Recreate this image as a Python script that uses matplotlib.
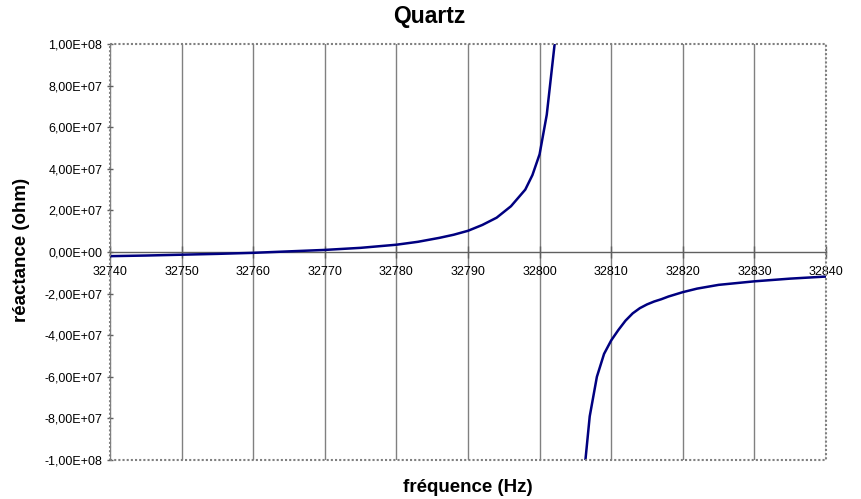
import matplotlib
matplotlib.use("Agg")
import matplotlib.pyplot as plt
from matplotlib.patches import Rectangle
from matplotlib.ticker import FuncFormatter, MultipleLocator
import numpy as np

plt.rcParams['font.family'] = ['Liberation Sans', 'DejaVu Sans']

# Branch below the resonance
freq_low = [32740, 32745, 32750, 32755, 32760, 32765, 32770, 32775, 32780,
            32783, 32786, 32788, 32790, 32792, 32794, 32796, 32798, 32799, 32800, 32801, 32802.1]
react_low = [-2.0e6, -1.7e6, -1.3e6, -0.9e6, -0.4e6, 0.3e6, 1.0e6, 2.0e6, 3.5e6,
             4.9e6, 6.8e6, 8.3e6, 10.2e6, 13e6, 16.5e6, 22e6, 30e6, 37e6, 47e6, 66e6, 100e6]
# Branch above the resonance
freq_high = [32806.4, 32807, 32808, 32809, 32810, 32811, 32812, 32813, 32814, 32815,
             32816, 32817, 32818, 32820, 32822, 32825, 32830, 32835, 32840]
react_high = [-100e6, -79e6, -60e6, -49e6, -42.5e6, -37.5e6, -33e6, -29.5e6, -27e6, -25.2e6,
              -23.8e6, -22.7e6, -21.4e6, -19.3e6, -17.6e6, -15.8e6, -14.1e6, -12.8e6, -11.8e6]

title = "Quartz"
xlabel = "fréquence (Hz)"
ylabel = "réactance (ohm)"

fig = plt.figure(figsize=(8.61, 4.99), dpi=100)
ax = fig.add_axes([110/861, 1-460/499, (826-110)/861, (460-44)/499])

line_color = '#000080'
ax.plot(freq_low, react_low, color=line_color, lw=1.8, solid_joinstyle='round', zorder=3)
ax.plot(freq_high, react_high, color=line_color, lw=1.8, solid_joinstyle='round', zorder=3)

ax.set_xlim(32740, 32840)
ax.set_ylim(-1e8, 1e8)
ax.xaxis.set_major_locator(MultipleLocator(10))
ax.yaxis.set_major_locator(MultipleLocator(2e7))
ax.xaxis.set_major_formatter(FuncFormatter(lambda v, p: f"{int(round(v))}"))
ax.yaxis.set_major_formatter(FuncFormatter(lambda v, p: f"{v:.2E}".replace('.', ',')))

ax.grid(True, axis='x', color='#808080', lw=1.0, zorder=1)
ax.grid(False, axis='y')

# x axis crosses at 0
ax.spines['bottom'].set_position(('data', 0))
ax.spines['bottom'].set_color('#606060')
ax.spines['bottom'].set_linewidth(1.0)
for s in ['top', 'right', 'left']:
    ax.spines[s].set_visible(False)

# dotted plot-area border
border = Rectangle((0, 0), 1, 1, transform=ax.transAxes, fill=False,
                   edgecolor='#808080', lw=1.5, linestyle=(0, (1, 1)), zorder=4, clip_on=False)
ax.add_patch(border)

ax.tick_params(axis='x', direction='inout', length=8, width=1, color='#606060',
               labelsize=9, pad=6)
ax.tick_params(axis='y', direction='inout', length=5, width=1, color='#606060',
               labelsize=9, pad=3)

fig.text(429/861, 1-17/499, title, ha='center', va='center', fontsize=16.5, fontweight='bold')
fig.text(468/861, 1-487/499, xlabel, ha='center', va='center', fontsize=13.5, fontweight='bold')
fig.text(22/861, 1-250/499, ylabel, ha='center', va='center', fontsize=13.5,
         fontweight='bold', rotation=90)

fig.savefig("out.png", dpi=100)
